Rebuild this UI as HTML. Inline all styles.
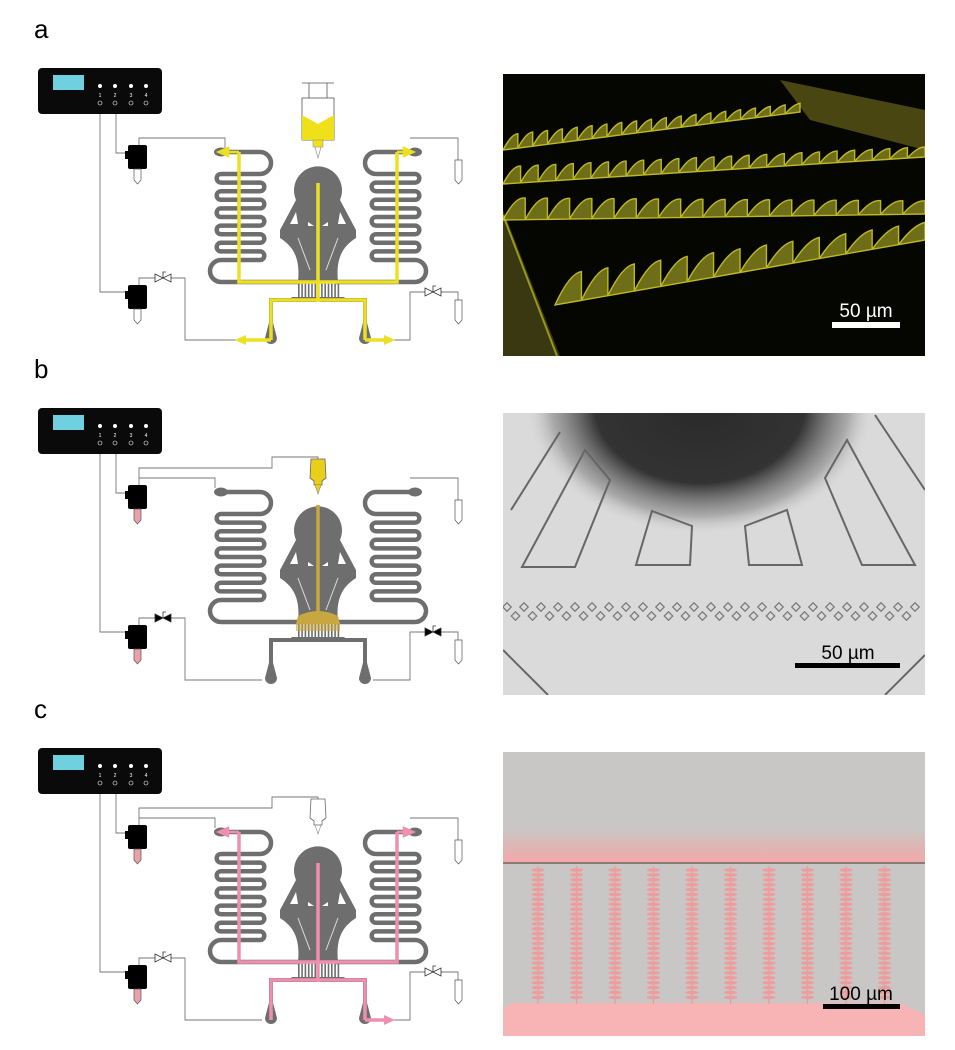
<!DOCTYPE html>
<html><head><meta charset="utf-8"><style>
html,body{margin:0;padding:0;background:#fff;width:955px;height:1050px;overflow:hidden}
svg{display:block}
</style></head><body>
<svg id="s" width="955" height="1050" viewBox="0 0 955 1050" xmlns="http://www.w3.org/2000/svg" font-family="Liberation Sans, sans-serif">
<defs>
<radialGradient id="blob" cx="0.5" cy="0.5" r="0.5">
<stop offset="0" stop-color="#2a2a2a"/><stop offset="0.6" stop-color="#333"/><stop offset="0.85" stop-color="#888" stop-opacity="0.6"/><stop offset="1" stop-color="#d8d8d8" stop-opacity="0"/>
</radialGradient>
<linearGradient id="pinkfade" x1="0" y1="0" x2="0" y2="1">
<stop offset="0" stop-color="#f4a0a0" stop-opacity="0"/><stop offset="1" stop-color="#f6a6a6" stop-opacity="0.95"/>
</linearGradient>
<clipPath id="ca"><rect x="503" y="74" width="422" height="282"/></clipPath>
<clipPath id="cb"><rect x="503" y="413" width="422" height="282"/></clipPath>
<clipPath id="cc"><rect x="503" y="752" width="422" height="284"/></clipPath>
</defs>
<text x="34" y="38" font-size="26">a</text>
<text x="34" y="378" font-size="26">b</text>
<text x="34" y="718" font-size="26">c</text>
<g id="sch"></g>
<rect x="503" y="74" width="422" height="282" fill="#050502"/>
<g id="imga" clip-path="url(#ca)"></g>
<rect x="832" y="322" width="68" height="6" fill="#fff"/>
<text x="866" y="317" font-size="19" fill="#fff" text-anchor="middle">50 µm</text>
<rect x="503" y="413" width="422" height="282" fill="#dadada"/>
<g id="imgb" clip-path="url(#cb)"></g>
<rect x="795" y="663" width="105" height="5" fill="#000"/>
<text x="848" y="659" font-size="19" fill="#000" text-anchor="middle">50 µm</text>
<rect x="503" y="752" width="422" height="284" fill="#c9c7c5"/>
<g id="imgc" clip-path="url(#cc)"></g>
<rect x="823" y="1004" width="77" height="5" fill="#000"/>
<text x="861" y="1000" font-size="19" fill="#000" text-anchor="middle">100 µm</text>
</svg>
<script>
const NS="http://www.w3.org/2000/svg";
function el(p,t,a){const e=document.createElementNS(NS,t);for(const k in a)e.setAttribute(k,a[k]);p.appendChild(e);return e;}
const sch=document.getElementById('sch');
const G="#6e6e6e";
function coil(g,x0,x1,mir){
  const L=x0+8,R=x1-8;
  const inner=mir?R:L, outer=mir?L:R;
  const sw=x=>x===R?1:0;
  let d=`M${inner} 152 H${outer} A11 11 0 0 ${sw(outer)} ${outer} 174 H${inner}`;
  let y=174,at=inner,step=8.6;
  for(let i=0;i<10;i++){
    const ny=y+step;const other=at===L?R:L;
    d+=` A${step/2} ${step/2} 0 0 ${sw(at)} ${at} ${ny} H${other}`;
    at=other;y=ny;
  }
  const r=(282-y)/2;
  d+=` A${r} ${r} 0 0 ${sw(at)} ${at} 282 H${mir?336:300}`;
  el(g,'path',{d,fill:'none',stroke:G,'stroke-width':4.5});
  el(g,'ellipse',{cx:inner,cy:152,rx:7,ry:4.5,fill:G});
}
function pump(g,x,y,tube){
  el(g,'rect',{x:x,y:y,width:19,height:24,rx:2,fill:'#000'});
  el(g,'rect',{x:x-3,y:y+6,width:4,height:8,fill:'#000'});
  el(g,'path',{d:`M${x+6} ${y+24} v11 l3.5 4 l3.5 -4 v-11 z`,fill:tube,stroke:'#555','stroke-width':0.7});
}
function tube(g,x,y){el(g,'path',{d:`M${x} ${y} v20 l3.5 4 l3.5 -4 v-20 z`,fill:'#fff',stroke:'#555','stroke-width':0.7});}
function valve(g,x,y,fill){
  el(g,'path',{d:`M${x-8} ${y-4} L${x+8} ${y+4} L${x+8} ${y-4} L${x-8} ${y+4} Z`,fill:fill,stroke:'#333','stroke-width':0.8});
  el(g,'path',{d:`M${x} ${y} v-6 h3`,fill:'none',stroke:'#333','stroke-width':0.8});
}
function panel(oy,mode){
  const g=el(sch,'g',{transform:`translate(0,${oy})`});
  const ln={fill:'none',stroke:'#777','stroke-width':0.9};
  el(g,'rect',{x:38,y:68,width:124,height:46,rx:4,fill:'#0a0a0a'});
  el(g,'rect',{x:53,y:75,width:31,height:15,fill:'#6fd0e0'});
  [100,115,131,146].forEach((x,i)=>{
    el(g,'circle',{cx:x,cy:86,r:2,fill:'#fff'});
    const t=el(g,'text',{x:x,y:97,'font-size':5,fill:'#fff','text-anchor':'middle'});t.textContent=i+1;
    el(g,'circle',{cx:x,cy:103,r:2,fill:'none',stroke:'#fff','stroke-width':0.6});
  });
  el(g,'path',Object.assign({d:'M100 114 V292 H130'},ln));
  el(g,'path',Object.assign({d:'M116 114 V153 H130'},ln));
  if(mode==='a'){
    el(g,'path',Object.assign({d:'M139 145 V138 H225 V148'},ln));
  }else{
    el(g,'path',Object.assign({d:'M139 145 V138 H215 V148'},ln));
    el(g,'path',Object.assign({d:'M139 138 V128 H272 V117 H318 V120'},ln));
  }
  el(g,'path',Object.assign({d:'M139 285 V278 H155 M171 278 H185 V340 H262'},ln));
  el(g,'path',Object.assign({d:'M410 138 H458 V160'},ln));
  el(g,'path',Object.assign({d:'M373 340 H410 V292 H425 M441 292 H458 V300'},ln));
  const tubeFill=mode==='a'?'#fff':'#e9a2a8';
  pump(g,128,145,tubeFill);pump(g,128,285,tubeFill);
  tube(g,455,160);tube(g,455,300);
  const vf=mode==='b'?'#000':'#fff';
  valve(g,163,278,vf);valve(g,433,292,vf);
  coil(g,213,268,false);coil(g,368,423,true);
  el(g,'path',{d:'M296 200 A24 24 0 1 1 340 200 L356 230 L356 238 C340 248 336 262 338 282 L298 282 C300 262 296 248 280 238 L280 230 Z',fill:G});
  el(g,'path',{d:'M296 212 l-6 12 h8 z M340 212 l6 12 h-8 z M308 222 l6 4 h-6z M328 222 l-6 4 h6z',fill:'#fff'});
  el(g,'path',{d:'M298 238 L310 270 M338 238 L326 270',stroke:'#ddd','stroke-width':1});
  for(let x=298;x<=338;x+=3.3){el(g,'rect',{x:x,y:283,width:1.6,height:14,fill:G});}
  el(g,'path',{d:'M292 297 H344 L348 301 H288 Z',fill:G});
  el(g,'path',{d:'M318 300 H271 V332 M318 300 H365 V332',fill:'none',stroke:G,'stroke-width':4});
  el(g,'path',{d:'M271 315 L265 338 A6 6 0 0 0 277 338 Z M365 315 L359 338 A6 6 0 0 0 371 338 Z',fill:G});
  if(mode==='a'){
    el(g,'path',{d:'M302 83 H334 M309 83 V98 M327 83 V98',fill:'none',stroke:'#555','stroke-width':0.8});
    el(g,'rect',{x:302,y:98,width:32,height:42,fill:'#fff',stroke:'#555','stroke-width':0.8});
    el(g,'path',{d:'M302 115 L318 124 L334 115 V140 H302 Z',fill:'#f0e01a'});
    el(g,'rect',{x:313,y:140,width:10,height:7,fill:'#f0e01a',stroke:'#888','stroke-width':0.5});
    el(g,'path',{d:'M315 147 L318 158 L321 147',fill:'none',stroke:'#888','stroke-width':0.6});
  }else{
    const f=mode==='b'?'#e8cf1a':'#fff';
    el(g,'path',{d:'M311 119 H325 L326 138 L322 141 V145 H314 V141 L310 138 Z',fill:f,stroke:'#666','stroke-width':0.8});
    el(g,'path',{d:'M315 145 L318 154 L321 145',fill:mode==='b'?f:'none',stroke:'#888','stroke-width':0.6});
  }
  if(mode==='a'||mode==='c'){
    const c=mode==='a'?'#ece020':'#ef8fb0';
    const st={fill:'none',stroke:c,'stroke-width':3.5,'stroke-linejoin':'miter'};
    el(g,'path',Object.assign({d:'M318 183 V302'},st));
    el(g,'path',Object.assign({d:'M239 152 V282 H397 V152'},st));
    el(g,'path',Object.assign({d:'M271 340 V300 H365 V340'},st));
    el(g,'path',{d:'M239 152 H228 M228 148 L219 152 L228 156 Z M397 152 H404 M404 148 L413 152 L404 156 Z',stroke:c,'stroke-width':2.5,fill:c});
    if(mode==='a'){
      el(g,'path',Object.assign({d:'M271 340 H245'},st));
      el(g,'path',{d:'M246 335 L235 340 L246 345 Z',fill:c});
    }
    el(g,'path',Object.assign({d:'M365 340 H385'},st));
    el(g,'path',{d:'M384 335 L395 340 L384 345 Z',fill:c});
  }else{
    const c='#c8a640';
    el(g,'path',{d:'M318 165 V282',stroke:c,'stroke-width':3.5});
    el(g,'path',{d:'M298 276 Q318 266 338 276 L340 284 H296 Z',fill:c});
    el(g,'rect',{x:296,y:283,width:44,height:8,fill:c,opacity:0.6});
  }
}
panel(0,'a');panel(340,'b');panel(680,'c');

const ia=document.getElementById('imga');
el(ia,'path',{d:'M503 210 L560 356 L503 356 Z',fill:'#3a3810'});
el(ia,'path',{d:'M503 215 L557 356',stroke:'#9a9620','stroke-width':2});
el(ia,'path',{d:'M780 80 L925 110 L925 150 L810 120 Z',fill:'#4a4612'});
const rows=[[503,150,800,112,20,12],[503,184,925,157,24,14],[503,220,925,214,19,18],[555,305,925,240,14,24]];
rows.forEach(r=>{
  const [x0,y0,x1,y1,n,H]=r;let d='';
  for(let i=0;i<n;i++){
    const t0=i/n,t1=(i+1)/n;
    const ax=x0+(x1-x0)*t0,ay=y0+(y1-y0)*t0,bx=x0+(x1-x0)*t1,by=y0+(y1-y0)*t1;
    const h=H*(1.2-0.5*t0);
    d+=`M${ax} ${ay} Q${ax+(bx-ax)*0.55} ${ay-h*1.1} ${bx} ${by-h} L${bx} ${by} Z `;
  }
  el(ia,'path',{d,fill:'#7a7a1c',stroke:'#d2cc2c','stroke-width':1.4,opacity:0.9});
});
const ib=document.getElementById('imgb');
el(ib,'ellipse',{cx:700,cy:405,rx:175,ry:130,fill:'url(#blob)'});
const pg={fill:'none',stroke:'#666','stroke-width':2};
el(ib,'path',Object.assign({d:'M560 432 L511 510'},pg));
el(ib,'path',Object.assign({d:'M585 450 L610 480 L575 567 L522 567 Z'},pg));
el(ib,'path',Object.assign({d:'M652 511 L692 526 L690 565 L636 565 Z'},pg));
el(ib,'path',Object.assign({d:'M745 526 L787 510 L802 565 L749 565 Z'},pg));
el(ib,'path',Object.assign({d:'M847 440 L825 478 L862 565 L915 565 Z'},pg));
el(ib,'path',Object.assign({d:'M875 415 L925 490'},pg));
el(ib,'path',Object.assign({d:'M503 650 L548 695 M925 655 L885 695'},pg));
for(let x=507;x<922;x+=8.5){
  const up=Math.round((x-507)/8.5)%2===0;
  const y=up?607:616;
  el(ib,'rect',{x:x-3,y:y-3,width:6,height:6,transform:`rotate(45 ${x} ${y})`,fill:'none',stroke:'#777','stroke-width':1.2});
}
const ic=document.getElementById('imgc');
el(ic,'rect',{x:503,y:830,width:422,height:33,fill:'url(#pinkfade)'});
el(ic,'rect',{x:503,y:862,width:422,height:2,fill:'#8a7a7a'});
el(ic,'path',{d:'M503 1007 L515 1003 L900 1003 L925 1015 L925 1036 L503 1036 Z',fill:'#f8b4b4'});
for(let i=0;i<10;i++){
  const x=538+i*38.5;
  el(ic,'rect',{x:x-0.6,y:866,width:1.2,height:138,fill:'#ec9a9a'});
  for(let y=870;y<1002;y+=4.9){el(ic,'ellipse',{cx:x,cy:y,rx:6.5,ry:1.8,fill:'#ee9c9c'});}
}
</script>
</body></html>
